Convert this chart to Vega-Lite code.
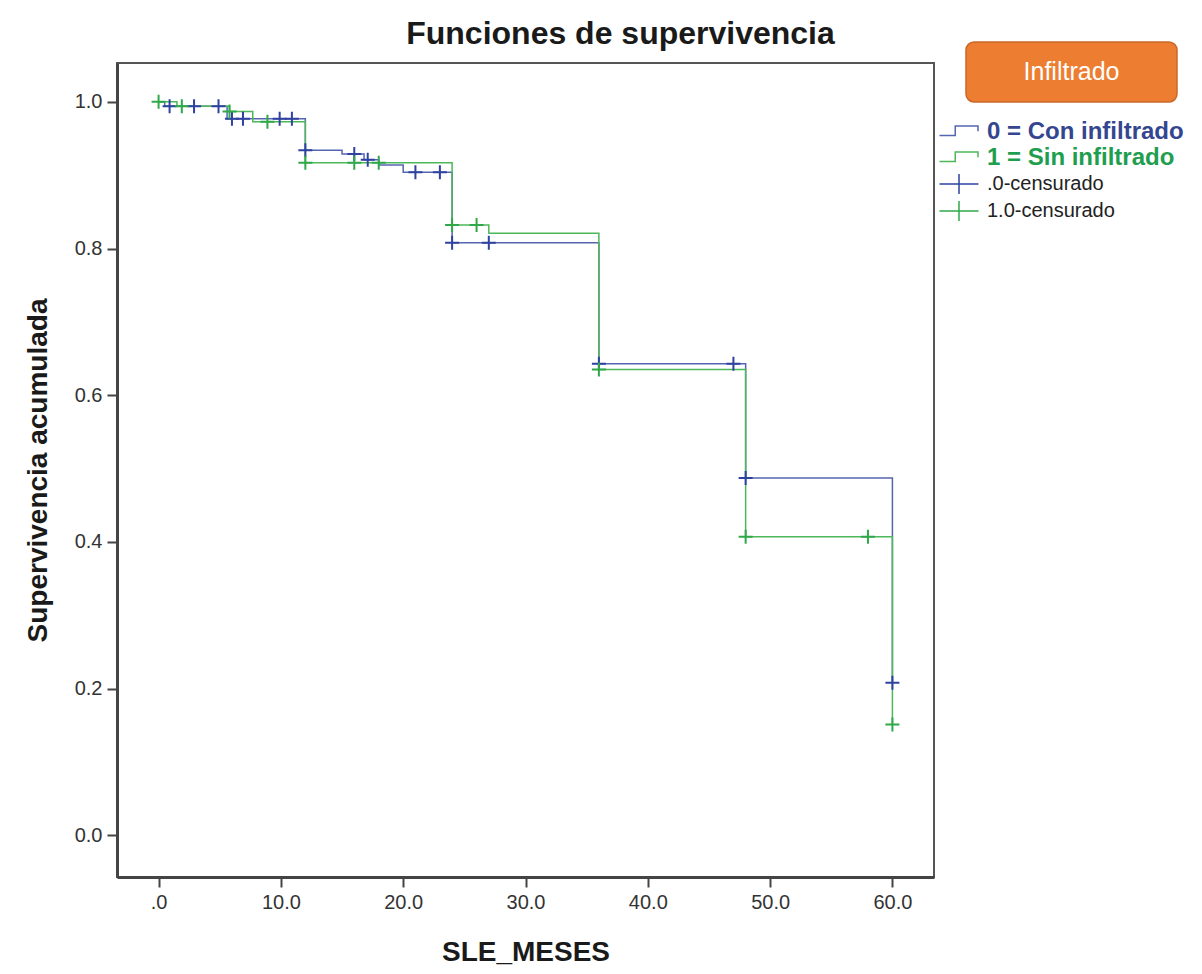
{
  "$schema": "https://vega.github.io/schema/vega-lite/v6.json",
  "width": 817,
  "height": 814,
  "autosize": {"type": "none"},
  "padding": {"left": 117, "top": 63, "right": 268, "bottom": 97},
  "background": "white",
  "title": {
    "text": "Funciones de supervivencia",
    "anchor": "middle",
    "frame": "group",
    "dx": 95,
    "dy": 35,
    "offset": 0,
    "baseline": "alphabetic",
    "font": "Liberation Sans",
    "fontSize": 32,
    "fontWeight": "bold",
    "color": "#1a1a1a"
  },
  "config": {
    "view": {"stroke": "#555555", "strokeWidth": 2},
    "axis": {
      "grid": false,
      "domainColor": "#444444",
      "domainWidth": 3,
      "tickColor": "#444444",
      "tickWidth": 2,
      "tickSize": 10,
      "labelFont": "Liberation Sans",
      "labelFontSize": 20,
      "labelColor": "#333333",
      "labelPadding": 5,
      "titleFont": "Liberation Sans",
      "titleFontSize": 28,
      "titleFontWeight": "bold",
      "titleColor": "#1a1a1a"
    },
    "legend": {"labelFont": "Liberation Sans", "labelFontSize": 20, "labelLimit": 400}
  },
  "datasets": {
    "curvas": [
      {"leyenda": "0 = Con infiltrado", "t": 0, "S": 1.0},
      {"leyenda": "0 = Con infiltrado", "t": 0.5, "S": 0.994},
      {"leyenda": "0 = Con infiltrado", "t": 5.6, "S": 0.977},
      {"leyenda": "0 = Con infiltrado", "t": 12, "S": 0.934},
      {"leyenda": "0 = Con infiltrado", "t": 15, "S": 0.929},
      {"leyenda": "0 = Con infiltrado", "t": 16.8, "S": 0.921},
      {"leyenda": "0 = Con infiltrado", "t": 18, "S": 0.914},
      {"leyenda": "0 = Con infiltrado", "t": 20, "S": 0.904},
      {"leyenda": "0 = Con infiltrado", "t": 24, "S": 0.808},
      {"leyenda": "0 = Con infiltrado", "t": 36, "S": 0.643},
      {"leyenda": "0 = Con infiltrado", "t": 48, "S": 0.487},
      {"leyenda": "0 = Con infiltrado", "t": 60, "S": 0.208},
      {"leyenda": "1 = Sin infiltrado", "t": 0, "S": 1.0},
      {"leyenda": "1 = Sin infiltrado", "t": 1.5, "S": 0.994},
      {"leyenda": "1 = Sin infiltrado", "t": 5.8, "S": 0.987},
      {"leyenda": "1 = Sin infiltrado", "t": 7.7, "S": 0.973},
      {"leyenda": "1 = Sin infiltrado", "t": 12, "S": 0.917},
      {"leyenda": "1 = Sin infiltrado", "t": 24, "S": 0.832},
      {"leyenda": "1 = Sin infiltrado", "t": 27, "S": 0.821},
      {"leyenda": "1 = Sin infiltrado", "t": 36, "S": 0.635},
      {"leyenda": "1 = Sin infiltrado", "t": 48, "S": 0.407},
      {"leyenda": "1 = Sin infiltrado", "t": 60, "S": 0.151}
    ],
    "censurados": [
      {"leyenda": ".0-censurado", "t": 0.9, "S": 0.994},
      {"leyenda": ".0-censurado", "t": 2.9, "S": 0.994},
      {"leyenda": ".0-censurado", "t": 4.9, "S": 0.994},
      {"leyenda": ".0-censurado", "t": 6, "S": 0.977},
      {"leyenda": ".0-censurado", "t": 6.9, "S": 0.977},
      {"leyenda": ".0-censurado", "t": 9.9, "S": 0.977},
      {"leyenda": ".0-censurado", "t": 10.9, "S": 0.977},
      {"leyenda": ".0-censurado", "t": 12, "S": 0.934},
      {"leyenda": ".0-censurado", "t": 16, "S": 0.929},
      {"leyenda": ".0-censurado", "t": 17.1, "S": 0.921},
      {"leyenda": ".0-censurado", "t": 21, "S": 0.904},
      {"leyenda": ".0-censurado", "t": 23, "S": 0.904},
      {"leyenda": ".0-censurado", "t": 24, "S": 0.808},
      {"leyenda": ".0-censurado", "t": 27, "S": 0.808},
      {"leyenda": ".0-censurado", "t": 36, "S": 0.643},
      {"leyenda": ".0-censurado", "t": 47, "S": 0.643},
      {"leyenda": ".0-censurado", "t": 48, "S": 0.487},
      {"leyenda": ".0-censurado", "t": 60, "S": 0.208},
      {"leyenda": "1.0-censurado", "t": 0, "S": 1.0},
      {"leyenda": "1.0-censurado", "t": 1.9, "S": 0.994},
      {"leyenda": "1.0-censurado", "t": 5.8, "S": 0.987},
      {"leyenda": "1.0-censurado", "t": 8.9, "S": 0.973},
      {"leyenda": "1.0-censurado", "t": 12, "S": 0.917},
      {"leyenda": "1.0-censurado", "t": 16, "S": 0.917},
      {"leyenda": "1.0-censurado", "t": 18, "S": 0.917},
      {"leyenda": "1.0-censurado", "t": 24, "S": 0.832},
      {"leyenda": "1.0-censurado", "t": 26, "S": 0.832},
      {"leyenda": "1.0-censurado", "t": 36, "S": 0.635},
      {"leyenda": "1.0-censurado", "t": 48, "S": 0.407},
      {"leyenda": "1.0-censurado", "t": 58, "S": 0.407},
      {"leyenda": "1.0-censurado", "t": 60, "S": 0.151}
    ]
  },
  "encoding": {
    "x": {
      "field": "t",
      "type": "quantitative",
      "title": "SLE_MESES",
      "scale": {"domain": [-3.4, 63.4], "nice": false, "zero": false},
      "axis": {
        "values": [0, 10, 20, 30, 40, 50, 60],
        "labelExpr": "datum.value == 0 ? '.0' : format(datum.value, '.1f')",
        "titlePadding": 26
      }
    },
    "y": {
      "field": "S",
      "type": "quantitative",
      "title": "Supervivencia acumulada",
      "scale": {"domain": [-0.057, 1.053], "nice": false, "zero": false},
      "axis": {
        "values": [0, 0.2, 0.4, 0.6, 0.8, 1.0],
        "format": ".1f",
        "titlePadding": 22
      }
    }
  },
  "layer": [
    {
      "data": {"name": "curvas"},
      "mark": {"type": "line", "interpolate": "step-after", "strokeWidth": 1.5},
      "encoding": {
        "color": {
          "field": "leyenda",
          "type": "nominal",
          "scale": {
            "domain": ["0 = Con infiltrado", "1 = Sin infiltrado", ".0-censurado", "1.0-censurado"],
            "range": ["#5565b0", "#4db85a", "#2f42a0", "#2fa84a"]
          },
          "legend": {
            "orient": "none",
            "legendX": 828.5,
            "legendY": 55.5,
            "title": null,
            "padding": 0,
            "rowPadding": 0,
            "symbolSize": 625,
            "symbolStrokeWidth": 1.5,
            "labelOffset": 14.5,
            "labelLimit": 400,
            "encode": {
              "symbols": {
                "update": {
                  "shape": {"signal": "datum.index < 2 ? 'M-1.56,0.28H-0.3V-0.48H1.52V-0.06' : 'M-1.56,0H1.56M0,-0.8V0.8'"},
                  "fill": {"value": "transparent"},
                  "stroke": {"scale": "color", "field": "value"},
                  "strokeWidth": {"value": 1.5},
                  "opacity": {"value": 1}
                }
              },
              "labels": {
                "update": {
                  "fontSize": {"signal": "datum.index < 2 ? 24 : 20"},
                  "fontWeight": {"signal": "datum.index < 2 ? 'bold' : 'normal'"},
                  "fill": {"signal": "datum.index == 0 ? '#34468f' : (datum.index == 1 ? '#1e9e4e' : '#222222')"}
                }
              }
            }
          }
        },
        "strokeWidth": {
          "field": "leyenda",
          "type": "nominal",
          "scale": {"domain": ["0 = Con infiltrado", "1 = Sin infiltrado"], "range": [1.5, 1.5]},
          "legend": {
            "orient": "none",
            "legendX": 923.5,
            "legendY": -22,
            "title": null,
            "padding": 0,
            "values": ["0 = Con infiltrado"],
            "labelExpr": "'Infiltrado'",
            "symbolSize": 3600,
            "symbolFillColor": "#ed7d31",
            "symbolStrokeColor": "#c9692a",
            "labelAlign": "center",
            "labelBaseline": "middle",
            "labelOffset": -31,
            "labelColor": "#ffffff",
            "labelFontSize": 25,
            "labelFont": "Liberation Sans",
            "encode": {
              "symbols": {
                "update": {
                  "shape": {"value": "M-3.25,-1H3.25A0.267,0.267,0,0,1,3.517,-0.733V0.733A0.267,0.267,0,0,1,3.25,1H-3.25A0.267,0.267,0,0,1,-3.517,0.733V-0.733A0.267,0.267,0,0,1,-3.25,-1Z"},
                  "fill": {"value": "#ed7d31"},
                  "stroke": {"value": "#c9692a"},
                  "strokeWidth": {"value": 1.5},
                  "opacity": {"value": 1}
                }
              },
              "labels": {
                "update": {"fill": {"value": "#ffffff"}}
              }
            }
          }
        }
      }
    },
    {
      "data": {"name": "censurados"},
      "mark": {
        "type": "point",
        "shape": "M-1,0H1M0,-1V1",
        "filled": false,
        "size": 196,
        "strokeWidth": 2,
        "opacity": 1
      },
      "encoding": {
        "color": {"field": "leyenda", "type": "nominal"}
      }
    }
  ]
}
